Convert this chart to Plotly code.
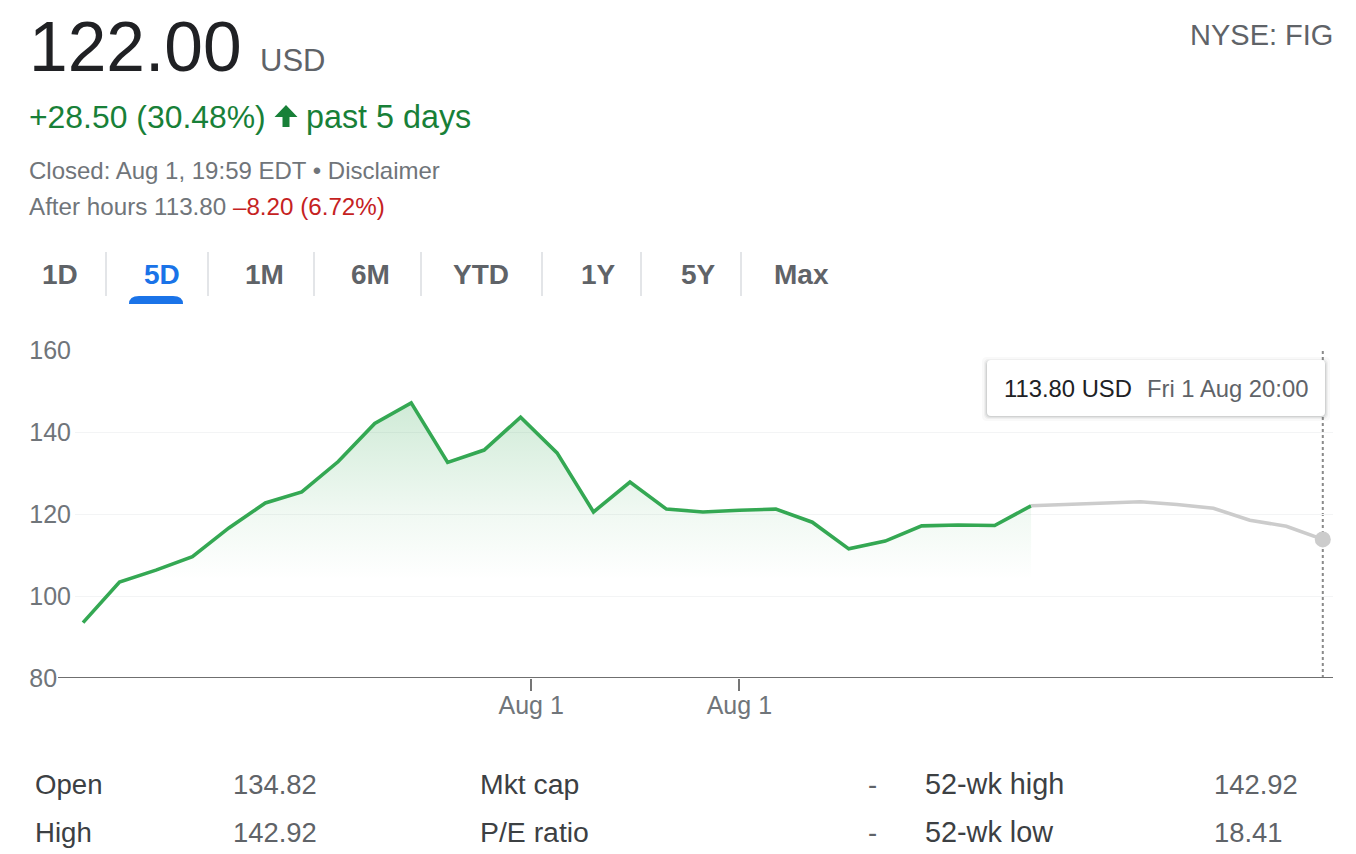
import plotly.graph_objects as go

# closing prices over the 5 days, then the after hours stretch
prices = [93.5, 103.4, 106.3, 109.6, 116.6, 122.7, 125.4, 132.8, 142.1, 147.1,
          132.6, 135.6, 143.6, 134.9, 120.5, 127.8, 121.2, 120.5, 120.9, 121.2,
          118.0, 111.5, 113.4, 117.1, 117.3, 117.2, 122.0]
after_hours = [122.0, 122.3, 122.7, 123.0, 122.3, 121.4, 118.5, 117.0, 113.8]

y_ticks = [80, 100, 120, 140, 160]
x_ticks = [12.29, 18]
x_labels = ['Aug 1', 'Aug 1']

tabs = ['1D', '5D', '1M', '6M', 'YTD', '1Y', '5Y', 'Max']
tab_x = [60, 162, 264, 370, 481, 598, 698, 801]
tab_seps = [106, 208, 314, 421, 542, 641, 741]

table_col1 = ['Open', 'High']
table_val1 = ['134.82', '142.92']
table_col2 = ['Mkt cap', 'P/E ratio']
table_val2 = ['-', '-']
table_col3 = ['52-wk high', '52-wk low']
table_val3 = ['142.92', '18.41']
table_rows = [784, 832]

W, H = 1356, 854
FONT = 'Liberation Sans'
GREY = '#5f6368'
LIGHT = '#70757a'
GREEN = '#188038'
RED = '#c5221f'
BLUE = '#1a73e8'


def fx(x):
    return x / W


def fy(y):
    return 1 - y / H


def label(x, y, text, size, color=GREY, anchor='left', bold=False):
    weight = 'bold' if bold else 'normal'
    return dict(x=fx(x), y=fy(y), xref='paper', yref='paper', text=text, showarrow=False,
                xanchor=anchor, yanchor='middle', align=anchor, borderpad=0, borderwidth=0,
                font=dict(family=FONT, size=size, color=color, weight=weight))


def round_rect(x0, y0, x1, y1, r):
    return (f'M {fx(x0 + r)} {fy(y0)} L {fx(x1 - r)} {fy(y0)} Q {fx(x1)} {fy(y0)} {fx(x1)} {fy(y0 + r)} '
            f'L {fx(x1)} {fy(y1 - r)} Q {fx(x1)} {fy(y1)} {fx(x1 - r)} {fy(y1)} '
            f'L {fx(x0 + r)} {fy(y1)} Q {fx(x0)} {fy(y1)} {fx(x0)} {fy(y1 - r)} '
            f'L {fx(x0)} {fy(y0 + r)} Q {fx(x0)} {fy(y0)} {fx(x0 + r)} {fy(y0)} Z')


def poly(points):
    return 'M ' + ' L '.join(f'{fx(x)} {fy(y)}' for x, y in points) + ' Z'


fig = go.Figure()

fig.add_trace(go.Scatter(
    x=list(range(len(prices))), y=prices, mode='lines',
    line=dict(color='#34a853', width=3.6),
    fill='tozeroy',
    fillgradient=dict(type='vertical', start=148, stop=104,
                      colorscale=[[0, 'rgba(52,168,83,0.24)'], [0.64, 'rgba(52,168,83,0.07)'],
                                  [1, 'rgba(52,168,83,0)']]),
))
start = len(prices) - 1
fig.add_trace(go.Scatter(
    x=[start + i for i in range(len(after_hours))], y=after_hours, mode='lines',
    line=dict(color='#cccccc', width=3.6),
))
fig.add_trace(go.Scatter(
    x=[start + len(after_hours) - 1], y=after_hours[-1:], mode='markers',
    marker=dict(color='#cccccc', size=16),
))

shapes = []
# base line runs on past the plot towards the 80 label
shapes.append(dict(type='line', xref='paper', yref='y', x0=fx(58), x1=fx(1333), y0=80, y1=80,
                   line=dict(color='#6f6f6f', width=2)))
# hover line, under the end dot
last_x = start + len(after_hours) - 1
shapes.append(dict(type='line', xref='x', yref='y', x0=last_x, x1=last_x, y0=80, y1=160, layer='below',
                   line=dict(color='#8a8a8a', width=2, dash='3px,3px')))
# tooltip shadow + box
for grow, alpha in [(5, 0.03), (3, 0.05), (2, 0.07), (1, 0.1)]:
    shapes.append(dict(type='path', xref='paper', yref='paper', line_width=0,
                       path=round_rect(987 - grow, 360 - grow + 2, 1325 + grow, 416 + grow, 5),
                       fillcolor=f'rgba(60,64,67,{alpha})'))
shapes.append(dict(type='path', xref='paper', yref='paper', line_width=0,
                   path=round_rect(987, 360, 1325, 416, 4), fillcolor='white'))
# tab separators and selected tab marker
for sx in tab_seps:
    shapes.append(dict(type='line', xref='paper', yref='paper', x0=fx(sx), x1=fx(sx), y0=fy(252), y1=fy(296),
                       line=dict(color='#dadce0', width=1.5)))
shapes.append(dict(type='path', xref='paper', yref='paper', line_width=0, fillcolor=BLUE,
                   path=f'M {fx(129)} {fy(304)} Q {fx(129)} {fy(296)} {fx(139)} {fy(296)} L {fx(173)} {fy(296)} '
                        f'Q {fx(183)} {fy(296)} {fx(183)} {fy(304)} Z'))
# up arrow
shapes.append(dict(type='path', xref='paper', yref='paper', line_width=0, fillcolor=GREEN,
                   path=poly([(286, 105), (297.5, 117), (289.5, 117), (289.5, 127),
                              (282.5, 127), (282.5, 117), (274.5, 117)])))

notes = [
    label(29, 47, '122.00', 69.5, '#202124'),
    label(260, 61, 'USD', 31),
    label(1333, 35, 'NYSE: FIG', 29, anchor='right'),
    label(29, 117, '+28.50 (30.48%)', 31.9, GREEN),
    label(306, 117, 'past 5 days', 32.3, GREEN),
    label(29, 170, 'Closed: Aug 1, 19:59 EDT • Disclaimer', 24, LIGHT),
    label(29, 206, f'After hours 113.80 <span style="color:{RED}">–8.20 (6.72%)</span>', 24.2, LIGHT),
    label(1004, 388, '113.80 USD', 23.8, '#202124'),
    label(1147, 388, 'Fri 1 Aug 20:00', 23.8, GREY),
]
for name, tx in zip(tabs, tab_x):
    notes.append(label(tx, 274, name, 28, BLUE if name == '5D' else GREY, anchor='center', bold=True))
for i, row in enumerate(table_rows):
    notes.append(label(35, row, table_col1[i], 27.6, '#3c4043'))
    notes.append(label(233, row, table_val1[i], 27.4))
    notes.append(label(480, row, table_col2[i], 28.4, '#3c4043'))
    notes.append(label(872, row, table_val2[i], 27.4, anchor='center'))
    notes.append(label(925, row, table_col3[i], 28.8, '#3c4043'))
    notes.append(label(1214, row, table_val3[i], 27.4))

fig.update_layout(
    width=W, height=H,
    margin=dict(l=0, r=0, t=0, b=0, autoexpand=False),
    paper_bgcolor='white', plot_bgcolor='white',
    showlegend=False, hovermode=False,
    shapes=shapes, annotations=notes,
    font=dict(family=FONT, size=25, color=LIGHT),
)
fig.update_xaxes(
    domain=[fx(75), fx(1333)], range=[-0.22, 34.28],
    showgrid=False, zeroline=False, showline=False,
    tickmode='array', tickvals=x_ticks, ticktext=x_labels,
    ticks='outside', ticklen=12, tickwidth=1.5, tickcolor='#757575',
    ticklabelstandoff=-7,
    tickfont=dict(size=25, color=LIGHT),
)
# labels are left aligned in the original, two nbsp = one digit
fig.update_yaxes(
    domain=[fy(678), fy(350)], range=[80, 160],
    showgrid=True, gridcolor='#f3f4f5', gridwidth=1, zeroline=False, showline=False,
    tickmode='array', tickvals=y_ticks,
    ticktext=[f'{v}' + '\u00a0\u00a0' * (3 - len(str(v))) for v in y_ticks],
    ticks='', ticklabelstandoff=3,
    tickfont=dict(size=25, color=LIGHT),
)

# page margin would push the whole figure 8px off
fig.write_html("out.html", config=dict(displayModeBar=False),
               post_script="document.body.style.margin='0';")
